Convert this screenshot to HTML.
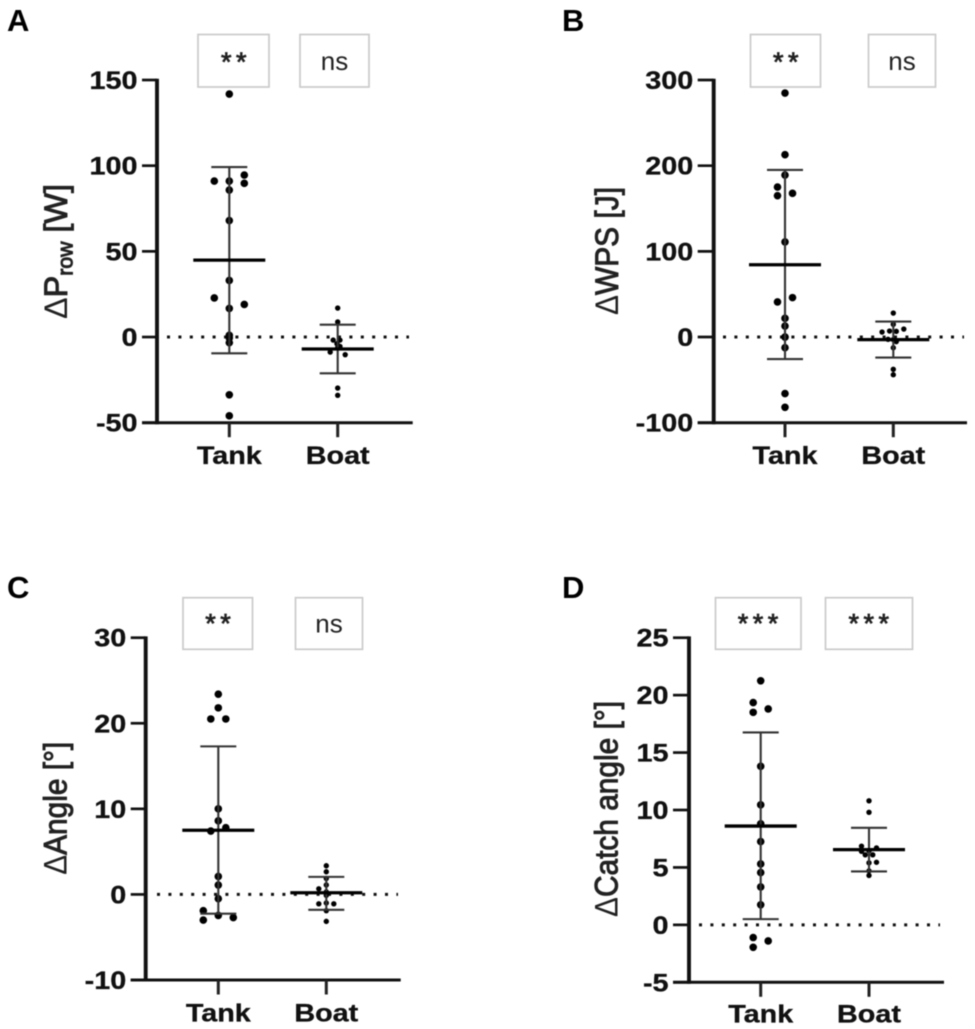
<!DOCTYPE html>
<html lang="en">
<head>
<meta charset="utf-8">
<title>Change in rowing metrics, tank versus boat</title>
<style>
html,body{margin:0;padding:0;background:#fff;}
body{width:975px;height:1029px;overflow:hidden;}
svg{display:block;filter:blur(0.4px);font-family:"Liberation Sans",sans-serif;}
.letter{font-size:31px;font-weight:bold;fill:#000;}
.stars{font-size:27px;fill:#222;stroke:#222;stroke-width:0.8;letter-spacing:4.5px;}
.ns{font-size:26px;fill:#222;}
.ytitle{font-size:29px;fill:#222;stroke:#222;stroke-width:0.85;}
.ytitle .delta{stroke-width:0;}
.ytitle .sub{font-size:19px;}
.box{fill:#fff;stroke:#cacaca;stroke-width:1.7;}
</style>
</head>
<body>
<svg id="figure" xmlns="http://www.w3.org/2000/svg" width="975" height="1029" viewBox="0 0 975 1029">
  <rect x="0" y="0" width="975" height="1029" fill="#fff"/>

  <text class="letter" x="7" y="31">A</text>
  <text class="letter" x="562" y="31">B</text>
  <text class="letter" x="7" y="598">C</text>
  <text class="letter" x="562" y="598">D</text>

  <rect class="box" x="198" y="34.5" width="71" height="52.5"/>
  <text class="stars" x="236" y="71" text-anchor="middle">**</text>
  <rect class="box" x="300" y="34.5" width="69" height="52.5"/>
  <text class="ns" x="334.5" y="70" text-anchor="middle">ns</text>

  <rect class="box" x="750.5" y="34.5" width="70" height="52.5"/>
  <text class="stars" x="788" y="71" text-anchor="middle">**</text>
  <rect class="box" x="868.5" y="34.5" width="67" height="52.5"/>
  <text class="ns" x="902" y="70" text-anchor="middle">ns</text>

  <rect class="box" x="183" y="597.7" width="69.5" height="51.6"/>
  <text class="stars" x="220.3" y="632.3" text-anchor="middle">**</text>
  <rect class="box" x="295.5" y="597.7" width="67" height="51.6"/>
  <text class="ns" x="329" y="632.5" text-anchor="middle">ns</text>

  <rect class="box" x="715.5" y="597.7" width="85.5" height="51.6"/>
  <text class="stars" x="760.3" y="632.3" text-anchor="middle">***</text>
  <rect class="box" x="825.5" y="597.7" width="87" height="51.6"/>
  <text class="stars" x="871" y="632.3" text-anchor="middle">***</text>

  <text class="ytitle" transform="translate(67,251.5) scale(1.12,1) rotate(-90)" text-anchor="middle" textLength="135" lengthAdjust="spacingAndGlyphs"><tspan class="delta">Δ</tspan>P<tspan class="sub" dy="5">row</tspan><tspan dy="-5"> [W]</tspan></text>
  <text class="ytitle" transform="translate(618,251) scale(1.12,1) rotate(-90)" text-anchor="middle" textLength="128" lengthAdjust="spacingAndGlyphs"><tspan class="delta">Δ</tspan>WPS [J]</text>
  <text class="ytitle" transform="translate(66.7,808.3) scale(1.12,1) rotate(-90)" text-anchor="middle" textLength="133" lengthAdjust="spacingAndGlyphs"><tspan class="delta">Δ</tspan>Angle [°]</text>
  <text class="ytitle" transform="translate(617.7,809) scale(1.12,1) rotate(-90)" text-anchor="middle" textLength="216" lengthAdjust="spacingAndGlyphs"><tspan class="delta">Δ</tspan>Catch angle [°]</text>
</svg>

<script>
// Shared categories
const categories = ['Tank', 'Boat'];

// Panel A: change in rowing power (W)
const aTicks = [-50, 0, 50, 100, 150];
const aTankValues = [141.8, 94.5, 91, 91, 89.7, 85.8, 68, 33, 22.8, 19, 16.7, 1, -0.5, -3.3, -33.7, -46];
const aTankColumns = [0, 2, -2, 0, 2, 0, 0, 0, -2, 2, 0, 0, 0, 0, 0, 0];
const aBoatValues = [16.9, 8.8, -1.8, -1.8, -3.9, -5.5, -6.2, -8.8, -10.3, -29.8, -34];
const aBoatColumns = [0, 0, -0.6, 0.3, -0.1, 0.3, 0, -1, 1, 0, 0];
const aMeans = [44.9, -7];
const aUpper = [99.2, 7.2];
const aLower = [-9.5, -21.2];

// Panel B: change in work per stroke (J)
const bTicks = [-100, 0, 100, 200, 300];
const bTankValues = [284.8, 212.8, 189, 175, 167.7, 165, 111, 46, 41, 21.8, 12.8, 0, 0, -12.5, -66, -82];
const bTankColumns = [0, 0, 0, -1, 1, -1, 0, 1, -1, 0, 0, 0, 0, 0, 0, 0];
const bBoatValues = [28, 14.8, 9.3, 7, 6.6, 5.8, -2.7, -3, -5.4, -12.5, -37.7, -44];
const bBoatColumns = [0, 0, 1.4, -0.5, 0.4, -1.5, -0.7, 0, 0.4, 0, 0, 0];
const bMeans = [84.4, -3];
const bUpper = [195, 18];
const bLower = [-25.7, -24];

// Panel C: change in angle (degrees)
const cTicks = [-10, 0, 10, 20, 30];
const cTankValues = [23.4, 21.8, 20.5, 20.5, 10, 8.6, 7.8, 7.4, 2.1, 1.1, -0.5, -1.9, -2.45, -2.7, -3];
const cTankColumns = [0, 0, -1, 1, 0, 0, 1, -1, 0, 0, 0, -2, 0, 2, -2];
const cBoatValues = [3.35, 2.65, 1.87, 1.1, 0.66, 0.3, -0.1, -1.1, -1.0, -1.1, -1.9, -3.15];
const cBoatColumns = [0, 0, 0, 0, -1, 0, 0, -1, 0, 1, 0, 0];
const cMeans = [7.5, 0.2];
const cUpper = [17.3, 2.05];
const cLower = [-2.25, -1.8];

// Panel D: change in catch angle (degrees)
const dTicks = [-5, 0, 5, 10, 15, 20, 25];
const dTankValues = [21.25, 19.35, 18.8, 18.5, 13.8, 10.45, 8.8, 7.25, 5.3, 4.55, 3.3, 1.75, -1.1, -1.4, -1.95];
const dTankColumns = [0, -1, 1, -1, 0, 0, 0, 0, 0, 0, 0, 0, -1, 1, -1];
const dBoatValues = [10.8, 9.8, 6.85, 6.7, 6.45, 6.4, 6.1, 6.1, 5.45, 5.4, 4.7, 4.3];
const dBoatColumns = [0, 0, -1, 1, 0, -1, -0.5, 0.5, 1, 0, 0, 0];
const dMeans = [8.6, 6.55];
const dUpper = [16.75, 8.45];
const dLower = [0.5, 4.65];

const SVG_NS = 'http://www.w3.org/2000/svg';
const svg = document.getElementById('figure');
const COLUMN_STEP = 7.5;
const MEAN_HALF = 36;
const CAP_HALF = 18;
const STRETCH = 1.15;

function shape(tag, attrs) {
  const el = document.createElementNS(SVG_NS, tag);
  for (const key in attrs) el.setAttribute(key, attrs[key]);
  svg.appendChild(el);
  return el;
}

function line(x1, y1, x2, y2, stroke, width, extra) {
  return shape('line', Object.assign({ x1: x1, y1: y1, x2: x2, y2: y2, stroke: stroke, 'stroke-width': width }, extra || {}));
}

function label(text, x, y, anchor, size) {
  const el = shape('text', {
    transform: 'translate(' + x + ',' + y + ') scale(' + STRETCH + ',1)',
    'text-anchor': anchor,
    'font-size': size,
    'font-weight': 'bold',
    fill: '#111',
    stroke: '#111',
    'stroke-width': 0.3
  });
  el.textContent = text;
  return el;
}

function drawPanel(id, frame, ticks, tankValues, tankColumns, boatValues, boatColumns, means, upper, lower) {
  const lo = ticks[0];
  const hi = ticks[ticks.length - 1];
  const yScale = function (v) { return frame.top + (hi - v) / (hi - lo) * (frame.bottom - frame.top); };
  const xScale = function (i) { return frame.firstX + i * frame.stepX; };

  const zero = line(frame.dotStart, yScale(0), frame.dotEnd, yScale(0), '#111', 3, { 'stroke-dasharray': '3 8.4' });
  
  

  const yAxis = line(frame.axisX, frame.top - 1.3, frame.axisX, frame.bottom + 1.5, '#111', 3.9);
  
  

  const xAxis = line(frame.tickStart, frame.bottom, frame.xEnd, frame.bottom, '#111', 3);
  
  

  ticks.forEach(function (t) {
    const tick = line(frame.tickStart, yScale(t), frame.axisX, yScale(t), '#111', 2.7);
    
    
    const tickLabel = label(String(t), frame.tickStart - 4.5, yScale(t) + 9, 'end', 25);
    
    
  });

  categories.forEach(function (name, i) {
    const key = name.toLowerCase();
    const cx = xScale(i);

    const tick = line(cx, frame.bottom, cx, frame.bottom + 14.5, '#222', 3);
    
    

    const catLabel = label(name, cx, frame.labelY, 'middle', 25);
    
    

    const values = i === 0 ? tankValues : boatValues;
    const columns = i === 0 ? tankColumns : boatColumns;
    const radius = i === 0 ? 3.8 : 2.7;
    values.forEach(function (v, n) {
      const dot = shape('circle', { cx: cx + columns[n] * COLUMN_STEP, cy: yScale(v), r: radius, fill: '#000' });
      
      
    });

    const stem = line(cx, yScale(upper[i]), cx, yScale(lower[i]), '#333', 2.1);
    
    

    const capTop = line(cx - CAP_HALF, yScale(upper[i]), cx + CAP_HALF, yScale(upper[i]), '#333', 2.1);
    
    

    const capBottom = line(cx - CAP_HALF, yScale(lower[i]), cx + CAP_HALF, yScale(lower[i]), '#333', 2.1);
    
    

    const mean = line(cx - MEAN_HALF, yScale(means[i]), cx + MEAN_HALF, yScale(means[i]), '#000', 3.3);
    
    
  });
}

drawPanel('a',
  { axisX: 157, top: 80, bottom: 422.7, tickStart: 142, xEnd: 412.7, firstX: 229.3, stepX: 108.4, dotStart: 167, dotEnd: 409, labelY: 464 },
  aTicks, aTankValues, aTankColumns, aBoatValues, aBoatColumns, aMeans, aUpper, aLower);
drawPanel('b',
  { axisX: 713.7, top: 80, bottom: 422.7, tickStart: 697.7, xEnd: 967, firstX: 785, stepX: 108.3, dotStart: 723, dotEnd: 964, labelY: 464 },
  bTicks, bTankValues, bTankColumns, bBoatValues, bBoatColumns, bMeans, bUpper, bLower);
drawPanel('c',
  { axisX: 145.7, top: 637.7, bottom: 980, tickStart: 130.7, xEnd: 400.7, firstX: 218.3, stepX: 108, dotStart: 157, dotEnd: 398, labelY: 1021.7 },
  cTicks, cTankValues, cTankColumns, cBoatValues, cBoatColumns, cMeans, cUpper, cLower);
drawPanel('d',
  { axisX: 689, top: 637.7, bottom: 982.3, tickStart: 673, xEnd: 944, firstX: 760.7, stepX: 108.3, dotStart: 699, dotEnd: 940, labelY: 1022.7 },
  dTicks, dTankValues, dTankColumns, dBoatValues, dBoatColumns, dMeans, dUpper, dLower);
</script>
</body>
</html>
